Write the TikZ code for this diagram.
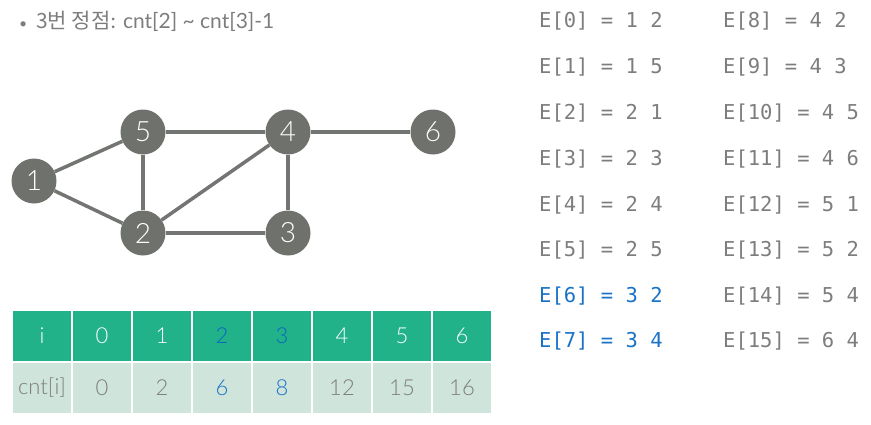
\documentclass[tikz,border=0pt]{standalone}
\usepackage{fontspec}
\setmainfont{Lato Light}
\setmonofont{DejaVu Sans Mono}
\newfontfamily\lato{Lato}
\newfontfamily\kor{Noto Sans CJK KR}
\definecolor{vertexgray}{HTML}{6F716D}
\definecolor{edgegray}{HTML}{737572}
\definecolor{textgray}{HTML}{7D7D7D}
\definecolor{headgreen}{HTML}{22B28A}
\definecolor{cellgreen}{HTML}{CFE4DA}
\definecolor{hiblue}{HTML}{1A72C6}
\definecolor{deepblue}{HTML}{0B66BC}
\tikzset{
  vertex/.style={shape=circle,fill=vertexgray,minimum size=45pt,inner sep=0pt,text=white,font=\fontsize{28}{28}\selectfont},
  link/.style={draw=edgegray,line width=3.5pt},
  head/.style={draw=white,line width=1.2pt,fill=headgreen,minimum width=60pt,minimum height=52pt,inner sep=0pt,text=white,font=\fontsize{22}{22}\selectfont},
  cell/.style={draw=white,line width=1.2pt,fill=cellgreen,minimum width=60pt,minimum height=52pt,inner sep=0pt,text=textgray,font=\fontsize{22}{22}\selectfont},
  entry/.style={anchor=west,inner sep=0pt,text=textgray,font=\ttfamily\fontsize{20.5}{20.5}\selectfont}
}
\begin{document}
\begin{tikzpicture}[x=1pt,y=-1pt]
    \useasboundingbox (0,0) rectangle (871,424);

    % title
    \node[anchor=west,inner sep=0pt,text=textgray,font=\lato\fontsize{21}{21}\selectfont] (title) at (19,21) {{\fontsize{14}{14}\selectfont\textbullet}\hspace{9pt}{\kor 3번 정점}: cnt[2] \textasciitilde{} cnt[3]-1};

    % graph
    \node[vertex] (v1) at (34,181) {1};
    \node[vertex] (v5) at (143,132) {5};
    \node[vertex] (v4) at (288,132) {4};
    \node[vertex] (v6) at (433,132) {6};
    \node[vertex] (v2) at (143,233) {2};
    \node[vertex] (v3) at (288,233) {3};

    \path[link] (v1) -- (v5);
    \path[link] (v1) -- (v2);
    \path[link] (v5) -- (v2);
    \path[link] (v5) -- (v4);
    \path[link] (v2) -- (v4);
    \path[link] (v4) -- (v3);
    \path[link] (v2) -- (v3);
    \path[link] (v4) -- (v6);

    % cnt table
    \node[head] (hi) at (42,336) {i};
    \node[head] (h0) at (102,336) {0};
    \node[head] (h1) at (162,336) {1};
    \node[head,text=deepblue] (h2) at (222,336) {2};
    \node[head,text=deepblue] (h3) at (282,336) {3};
    \node[head] (h4) at (342,336) {4};
    \node[head] (h5) at (402,336) {5};
    \node[head] (h6) at (462,336) {6};
    \node[cell] (ci) at (42,388) {cnt[i]};
    \node[cell] (c0) at (102,388) {0};
    \node[cell] (c1) at (162,388) {2};
    \node[cell,text=hiblue] (c2) at (222,388) {6};
    \node[cell,text=hiblue] (c3) at (282,388) {8};
    \node[cell] (c4) at (342,388) {12};
    \node[cell] (c5) at (402,388) {15};
    \node[cell] (c6) at (462,388) {16};

    % edge list
    \node[entry] (e0) at (539,21) {E[0] = 1 2};
    \node[entry] (e1) at (539,67) {E[1] = 1 5};
    \node[entry] (e2) at (539,113) {E[2] = 2 1};
    \node[entry] (e3) at (539,159) {E[3] = 2 3};
    \node[entry] (e4) at (539,205) {E[4] = 2 4};
    \node[entry] (e5) at (539,250) {E[5] = 2 5};
    \node[entry,text=hiblue] (e6) at (539,296) {E[6] = 3 2};
    \node[entry,text=hiblue] (e7) at (539,341) {E[7] = 3 4};
    \node[entry] (e8) at (723,21) {E[8] = 4 2};
    \node[entry] (e9) at (723,67) {E[9] = 4 3};
    \node[entry] (e10) at (723,113) {E[10] = 4 5};
    \node[entry] (e11) at (723,159) {E[11] = 4 6};
    \node[entry] (e12) at (723,205) {E[12] = 5 1};
    \node[entry] (e13) at (723,250) {E[13] = 5 2};
    \node[entry] (e14) at (723,296) {E[14] = 5 4};
    \node[entry] (e15) at (723,341) {E[15] = 6 4};
\end{tikzpicture}
\end{document}
